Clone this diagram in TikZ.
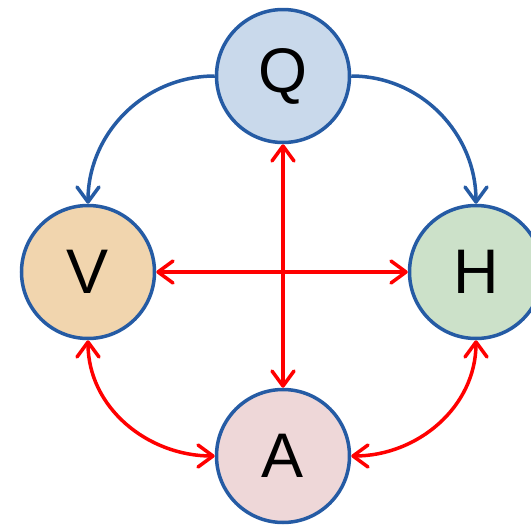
\documentclass[tikz,border=0pt]{standalone}
\usepackage{fontspec}
\setmainfont{Liberation Sans}
\usepackage{xcolor}
\usetikzlibrary{arrows.meta,positioning}
\definecolor{rand}{RGB}{37,91,164}
\definecolor{qfill}{RGB}{201,217,235}
\definecolor{vfill}{RGB}{241,213,174}
\definecolor{hfill}{RGB}{204,225,201}
\definecolor{afill}{RGB}{238,215,216}
\tikzset{
  kreis/.style={circle,draw=rand,line width=3.5pt,minimum size=133pt,inner sep=0pt,font=\fontsize{63}{63}\selectfont},
  blau/.style={-{Straight Barb[length=15pt,width=22pt,round]},rand,line width=3.5pt},
  rot/.style={{Straight Barb[length=15pt,width=22pt,round]}-{Straight Barb[length=15pt,width=22pt,round]},red,line width=3.5pt}
}
\begin{document}
\begin{tikzpicture}[x=1pt,y=-1pt]
\useasboundingbox (0,0) rectangle (531,525);
\node[kreis,fill=qfill] (Q) at (283,76) {Q};
\node[kreis,fill=vfill] (V) at (88,272) {V};
\node[kreis,fill=hfill] (H) at (476,272) {H};
\node[kreis,fill=afill] (A) at (283,456) {A};
\draw[blau] (Q.west) to[out=180,in=90] (V.north);
\draw[blau] (Q.east) to[out=0,in=90] (H.north);
\draw[rot] (V.south) to[out=-90,in=180] (A.west);
\draw[rot] (H.south) to[out=-90,in=0] (A.east);
\draw[rot] (Q.south) -- (A.north);
\draw[rot] (V.east) -- (H.west);
\end{tikzpicture}
\end{document}
